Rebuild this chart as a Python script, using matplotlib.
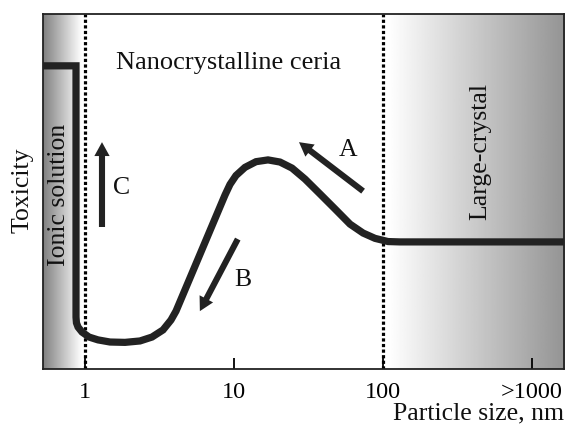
import numpy as np
import matplotlib
matplotlib.use("Agg")
import matplotlib.pyplot as plt
from matplotlib.patches import FancyArrowPatch

plt.rcParams["font.family"] = ["Liberation Serif", "DejaVu Serif"]

# Toxicity profile versus particle size (size in nm, toxicity in arbitrary units)
size_nm = [0.50, 0.870, 0.870, 0.876, 0.898, 0.955, 1.064, 1.222, 1.472, 1.855,
           2.339, 2.816, 3.337, 3.776, 4.08, 8.70, 9.40, 10.31, 11.85, 14.05,
           16.91, 20.35, 24.50, 29.96, 37.8, 47.6, 60.1, 73.5, 88.4, 108.1,
           130.0, 1800.0]
toxicity = [0.854, 0.854, 0.146, 0.130, 0.118, 0.104, 0.090, 0.082, 0.076, 0.075,
            0.079, 0.090, 0.110, 0.138, 0.163, 0.490, 0.520, 0.545, 0.568, 0.584,
            0.589, 0.583, 0.566, 0.535, 0.493, 0.451, 0.408, 0.383, 0.368, 0.359,
            0.358, 0.358]

# Trend arrows: (tail size, tail toxicity, head size, head toxicity)
arrow_labels = ["A", "B", "C"]
arrow_tail_x = [73.5, 10.6, 1.30]
arrow_tail_y = [0.501, 0.366, 0.400]
arrow_head_x = [27.3, 5.9, 1.30]
arrow_head_y = [0.639, 0.163, 0.639]

tick_values = [1, 10, 100, 1000]
tick_labels = ["1", "10", "100", ">1000"]
region_bounds = [1, 100]

x_min, x_max = 0.5224, 1640.0

fig = plt.figure(figsize=(5.69, 4.27), dpi=100)
ax = fig.add_axes([43 / 569, 57 / 427, 521 / 569, 355 / 427])
ax.set_xscale("log")
ax.set_xlim(x_min, x_max)
ax.set_ylim(0, 1)


def frac(x):
    return (np.log10(x) - np.log10(x_min)) / (np.log10(x_max) - np.log10(x_min))


# Shaded regions: ionic solution (left) and large crystals (right)
left_grad = np.linspace(0.50, 1.0, 256)[None, :]
ax.imshow(left_grad, cmap="gray", vmin=0, vmax=1, aspect="auto",
          extent=[0, frac(0.95), 0, 1], transform=ax.transAxes, zorder=0)
right_grad = np.linspace(1.0, 0.58, 256)[None, :]
ax.imshow(right_grad, cmap="gray", vmin=0, vmax=1, aspect="auto",
          extent=[frac(108), 1, 0, 1], transform=ax.transAxes, zorder=0)
ax.set_xlim(x_min, x_max)
ax.set_ylim(0, 1)

for xb in region_bounds:
    ax.axvline(xb, color="black", lw=2.3, linestyle=(0, (1, 0.75)),
               dash_capstyle="butt", zorder=1)

ax.plot(size_nm, toxicity, color="#222222", lw=5.2, solid_joinstyle="miter",
        solid_capstyle="butt", zorder=3)

for tx, ty, hx, hy in zip(arrow_tail_x, arrow_tail_y, arrow_head_x, arrow_head_y):
    arr = FancyArrowPatch((tx, ty), (hx, hy),
                          arrowstyle="simple,head_length=0.5,head_width=0.55,tail_width=0.22",
                          mutation_scale=20, color="#222222", lw=0,
                          shrinkA=0, shrinkB=0, zorder=4)
    ax.add_patch(arr)

fs = 18.5
ax.set_xticks(tick_values)
ax.set_xticklabels(tick_labels)
ax.xaxis.set_minor_locator(matplotlib.ticker.NullLocator())
ax.tick_params(axis="x", direction="in", length=8, width=1.3, pad=9,
               labelsize=17.5, colors="black")
ax.set_yticks([])
for sp in ax.spines.values():
    sp.set_linewidth(1.3)
    sp.set_color("#222222")

W, H = 569, 427


def ftext(px, py, s, **kw):
    fig.text(px / W, 1 - py / H, s, ha="center", va="center", color="#111111", **kw)


ftext(229, 63, "Nanocrystalline ceria", fontsize=19)
ftext(23, 190, "Toxicity", fontsize=fs, rotation=90)
ftext(59, 195, "Ionic solution", fontsize=fs, rotation=90)
ftext(480, 152, "Large-crystal", fontsize=fs, rotation=90)
ftext(348, 150, arrow_labels[0], fontsize=fs)
ftext(243, 280, arrow_labels[1], fontsize=fs)
ftext(122, 188, arrow_labels[2], fontsize=fs)
fig.text(564 / W, 1 - 413 / H, "Particle size, nm", ha="right", va="center",
         color="#111111", fontsize=fs)

fig.savefig("out.png", dpi=100)
